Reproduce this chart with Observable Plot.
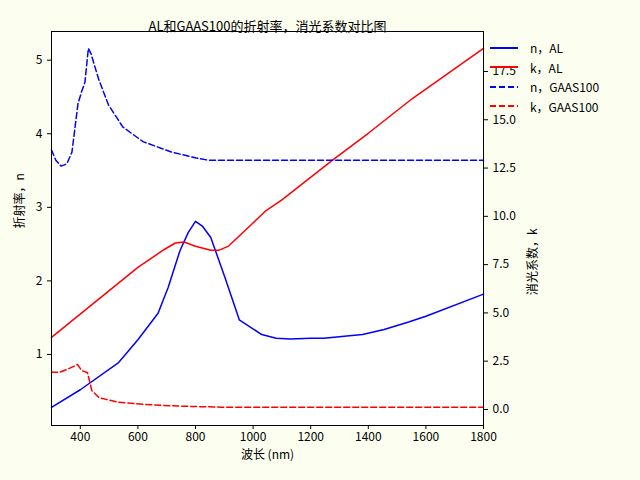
<!DOCTYPE html>
<html><head><meta charset="utf-8">
<script src="https://cdn.jsdelivr.net/npm/d3@7"></script>
<script src="https://cdn.jsdelivr.net/npm/@observablehq/plot@0.6"></script>
<style>
body{margin:0;background:#fcfff0;font-family:"Noto Sans CJK SC",sans-serif;}
#wrap{position:relative;width:640px;height:480px;}
#legend{position:absolute;left:490px;top:38px;font-size:12px;line-height:19.5px;}
#legend div{display:flex;align-items:center;}
#legend svg{margin-right:12px;}
</style></head><body><div id="wrap"><div id="legend"></div></div>
<script>
const wlNAl=[300,400,533,600,670,705,746,775,800,825,853,902,952,1030,1080,1130,1200,1245,1380,1455,1540,1600,1800];
const nAl=[0.28,0.52,0.89,1.20,1.56,1.91,2.41,2.66,2.81,2.74,2.59,2.05,1.47,1.27,1.22,1.21,1.22,1.22,1.27,1.34,1.44,1.52,1.82];
const wlKAl=[300,600,690,730,760,800,853,880,915,995,1045,1100,1278,1400,1553,1800];
const kAl=[3.73,7.36,8.27,8.62,8.67,8.45,8.24,8.24,8.46,9.59,10.3,10.85,12.94,14.3,16.1,18.7];
const wlNGa=[300,315,333,353,371,392,406,416,428,437,463,498,548,619,718,803,845,1000,1200,1400,1600,1800];
const nGa=[3.78,3.64,3.56,3.59,3.75,4.41,4.59,4.70,5.16,5.09,4.75,4.39,4.09,3.89,3.75,3.67,3.64,3.64,3.64,3.64,3.64,3.64];
const wlKGa=[300,330,360,390,405,425,440,465,530,620,750,890,1200,1500,1800];
const kGa=[1.93,1.93,2.11,2.33,2.02,1.90,0.98,0.61,0.38,0.26,0.17,0.12,0.12,0.12,0.12];
const kTicks=[0,2.5,5,7.5,10,12.5,15,17.5];
const nTicks=[1,2,3,4,5];
const xTicks=[400,600,800,1000,1200,1400,1600,1800];

const nDom=[0.034,5.39], kDom=[-0.83,19.57];
const k2n=k=>nDom[0]+(k-kDom[0])*(nDom[1]-nDom[0])/(kDom[1]-kDom[0]);
const mk=(xs,ys,f=v=>v)=>xs.map((x,i)=>({x,y:f(ys[i])}));
const font='"Noto Sans CJK SC",sans-serif';
const series=[
 {label:"n，AL",data:mk(wlNAl,nAl),color:"blue",dash:null},
 {label:"k，AL",data:mk(wlKAl,kAl,k2n),color:"red",dash:null},
 {label:"n，GAAS100",data:mk(wlNGa,nGa),color:"blue",dash:"6,3"},
 {label:"k，GAAS100",data:mk(wlKGa,kGa,k2n),color:"red",dash:"6,3"}
];
const chart=Plot.plot({
 width:640,height:480,marginLeft:51,marginRight:157,marginTop:31,marginBottom:55,
 style:{background:"transparent",fontFamily:font,fontSize:"12px",color:"black"},
 x:{domain:[300,1800]},
 y:{domain:nDom},
 marks:[
  Plot.rect([0],{x1:300,x2:1800,y1:nDom[0],y2:nDom[1],fill:"white"}),
  ...series.map(s=>Plot.line(s.data,{x:"x",y:"y",stroke:s.color,strokeWidth:1.5,strokeDasharray:s.dash})),
  Plot.frame({stroke:"black"}),
  Plot.axisX({ticks:xTicks,tickSize:4,label:null,tickFormat:d=>String(d),fontSize:12,tickPadding:3}),
  Plot.axisY({ticks:nTicks,tickSize:4,label:null,tickFormat:d=>String(d),fontSize:12}),
  Plot.axisY(kTicks.map(k2n),{anchor:"right",tickSize:4,label:null,tickFormat:(d,i)=>kTicks[i].toFixed(1),fontSize:12}),
  Plot.text(["AL和GAAS100的折射率，消光系数对比图"],{frameAnchor:"top",dy:-10,fontSize:13}),
  Plot.text(["波长 (nm)"],{frameAnchor:"bottom",dy:33,fontSize:12}),
  Plot.text(["折射率，n"],{frameAnchor:"left",dx:-31,rotate:-90,fontSize:12}),
  Plot.text(["消光系数，k"],{frameAnchor:"right",dx:50,rotate:-90,fontSize:12})
 ]
});
document.getElementById("wrap").prepend(chart);
const lg=document.getElementById("legend");
series.forEach(s=>{
 const d=document.createElement("div");
 d.innerHTML=`<svg width="28" height="10"><line x1="0" x2="28" y1="5" y2="5" stroke="${s.color}" stroke-width="2" ${s.dash?`stroke-dasharray="${s.dash}"`:""}/></svg><span>${s.label}</span>`;
 lg.appendChild(d);
});
</script></body></html>
